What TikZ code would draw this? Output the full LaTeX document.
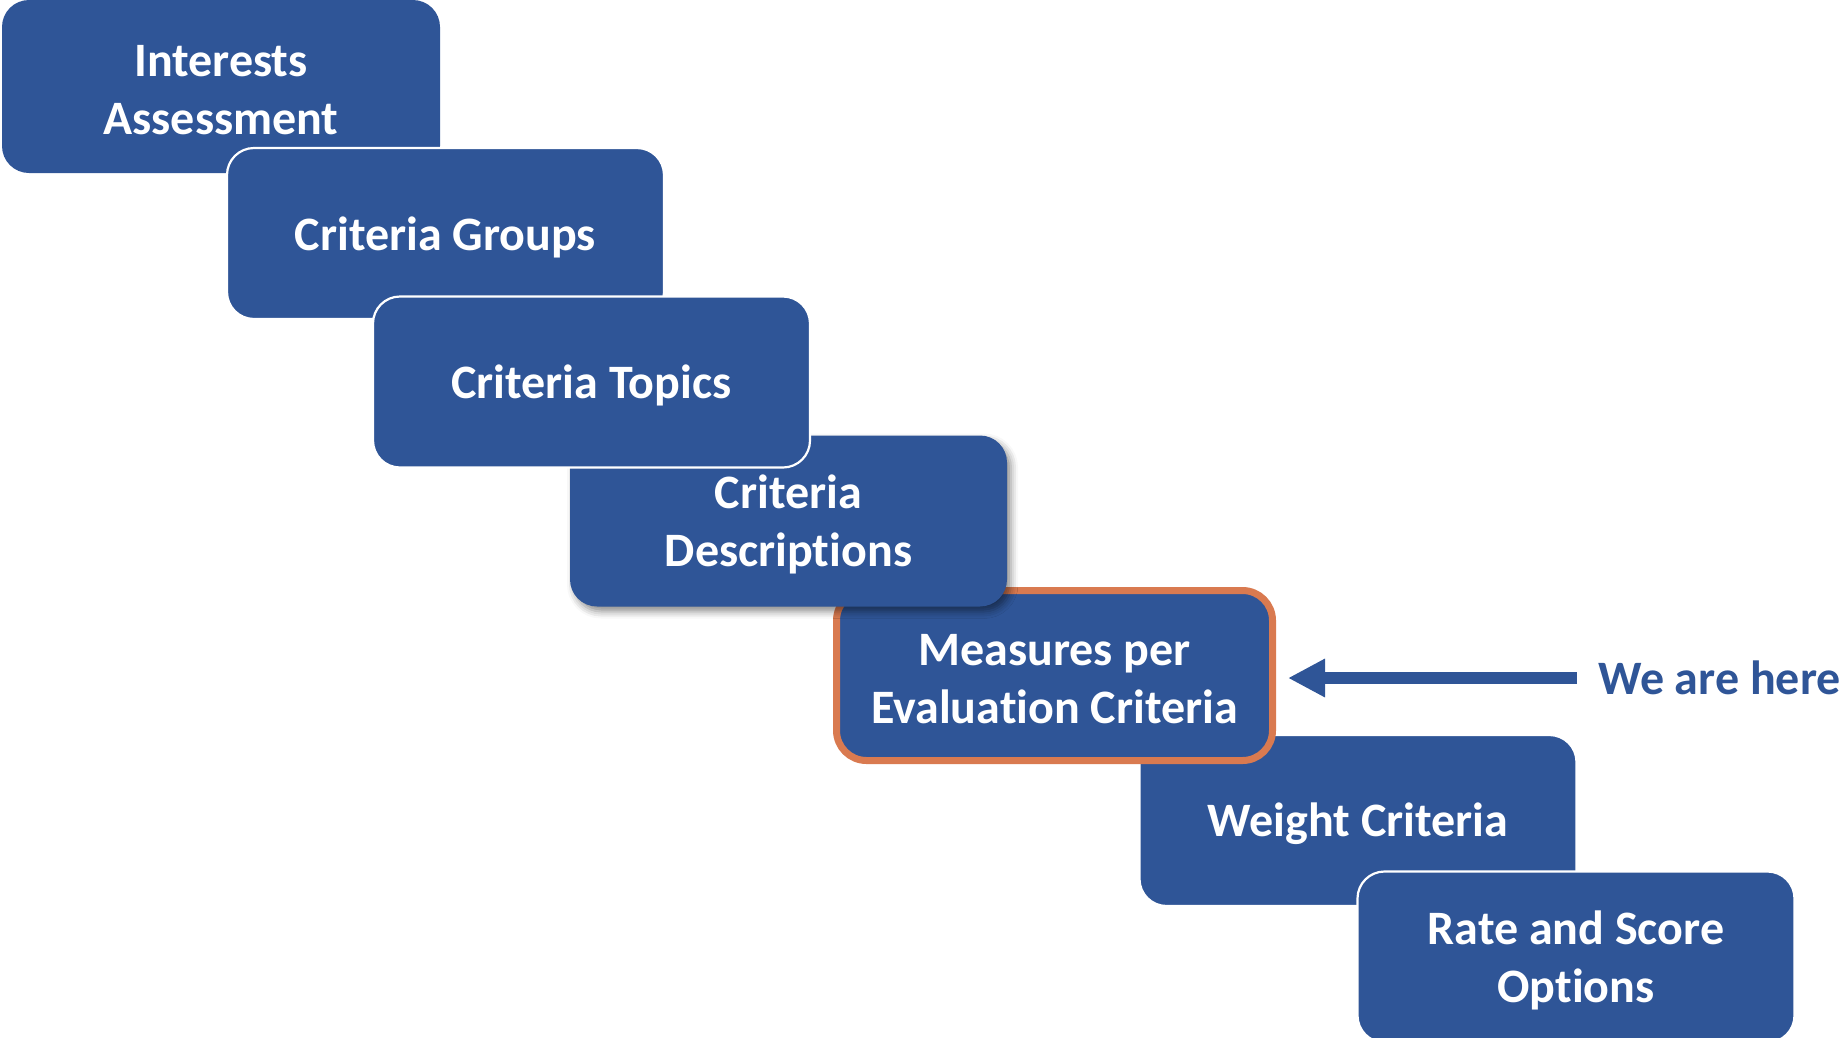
\documentclass[tikz,border=0pt]{standalone}
\usepackage{fontspec}
\setmainfont{Carlito}[Ligatures=NoCommon]
\usetikzlibrary{arrows.meta,shadows.blur}
\definecolor{stepblue}{HTML}{2F5597}
\definecolor{stepedge}{HTML}{D97A50}
\begin{document}
\begin{tikzpicture}[x=1pt,y=-1pt,
  stepbox/.style={rectangle, rounded corners=27pt, fill=stepblue,
    minimum width=437pt, minimum height=171pt, inner sep=0pt},
  steptext/.style={text=white, align=center, inner sep=0pt, yshift=-3.5pt,
    font=\fontsize{48}{58}\selectfont\bfseries},
  outlined/.style={draw=white, line width=2.2pt},
  current/.style={draw=stepedge, line width=7pt, rounded corners=30pt,
    minimum width=436pt, minimum height=170pt},
  pointer/.style={draw=stepblue, line width=12pt,
    -{Triangle[length=37pt,width=36pt]}},
  hint/.style={text=stepblue, inner sep=0pt, anchor=west,
    font=\fontsize{48}{58}\selectfont\bfseries}
]
\useasboundingbox (0,0) rectangle (1845,1037);
\clip (0,0) rectangle (1845,1037);

% staircase of steps, painted back to front
\node[stepbox, minimum width=438pt, minimum height=173pt,
  label={[steptext]center:Interests\\Assessment}] (ia) at (221,86.5) {};
\node[stepbox, outlined,
  label={[steptext]center:Criteria Groups}] (cg) at (445.5,233.5) {};
\node[stepbox, outlined,
  label={[steptext]center:Weight Criteria}] (wc) at (1358,820.5) {};
\node[stepbox, outlined,
  label={[steptext]center:Rate and Score\\Options}] (rs) at (1576,957) {};
\node[stepbox, current,
  label={[steptext]center:Measures per\\Evaluation Criteria}] (me) at (1054.5,675.5) {};
\node[stepbox, blur shadow={shadow xshift=4pt, shadow yshift=-5pt,
    shadow blur radius=7pt, shadow opacity=45},
  label={[steptext]center:Criteria\\Descriptions}] (cd) at (788.5,521) {};
\node[stepbox, outlined,
  label={[steptext]center:Criteria Topics}] (ct) at (591.5,382) {};

% current-position marker
\node[hint] (here) at (1598,678) {We are here};
\draw[pointer, shorten <=21pt, shorten >=12pt] (here.west) -- (here.west -| me.east);
\end{tikzpicture}
\end{document}
